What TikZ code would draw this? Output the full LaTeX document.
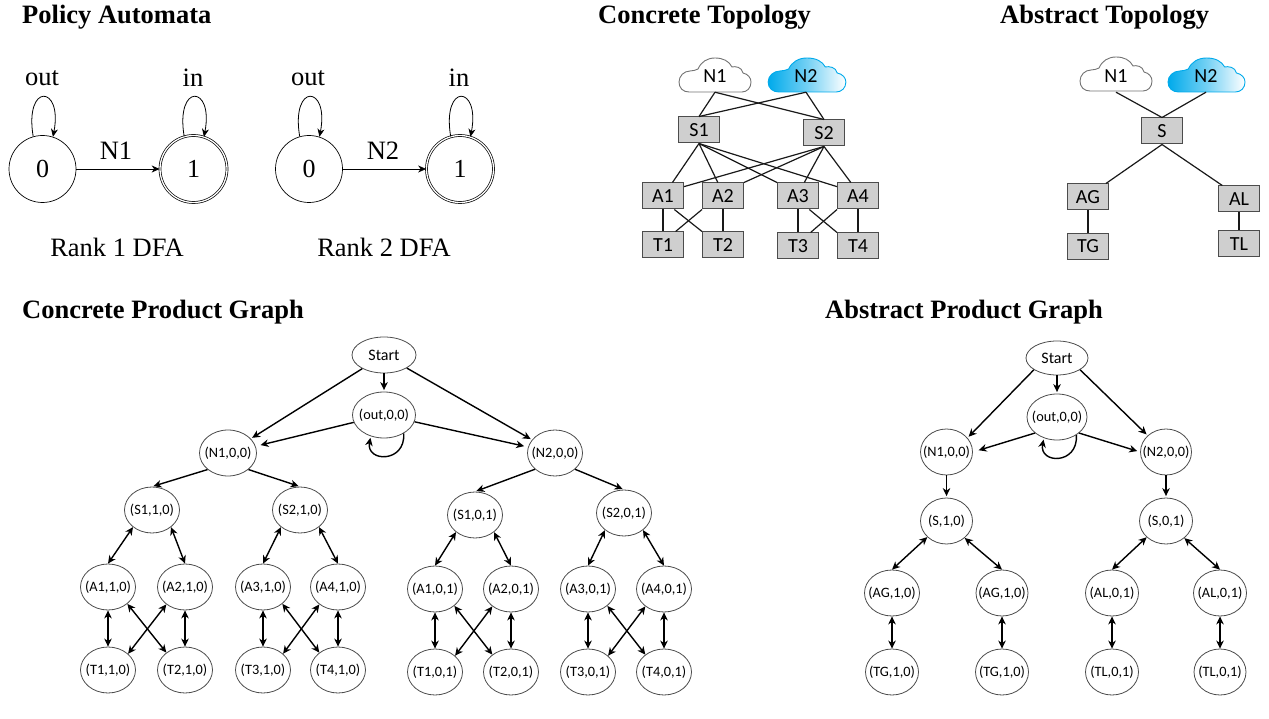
\documentclass[tikz,border=0pt]{standalone}
\usepackage{fontspec}
\setmainfont{Liberation Serif}
\newfontfamily\carlito{Carlito}
\usetikzlibrary{shapes.geometric,arrows.meta}
\definecolor{cloudblue}{RGB}{0,170,235}
\tikzset{
  heading/.style={anchor=base west,inner sep=0pt,font=\fontsize{26.5}{30}\selectfont\bfseries},
  dfatext/.style={inner sep=0pt,font=\fontsize{26.5}{30}\selectfont},
  dfastate/.style={draw,circle,line width=0.7pt,minimum size=67pt,inner sep=0pt,font=\fontsize{26}{30}\selectfont},
  dfafinal/.style={dfastate,double,double distance=1.3pt,minimum size=67pt},
  dfaedge/.style={line width=0.8pt,-{Stealth[length=8pt,width=7pt,inset=2.5pt]}},
  netbox/.style={draw=black!70,fill=black!19,line width=1pt,minimum width=41pt,minimum height=26pt,inner sep=0pt,font=\fontsize{20}{24}\selectfont\carlito},
  nettext/.style={minimum width=70pt,minimum height=32pt,inner sep=0pt,font=\fontsize{20}{24}\selectfont\carlito},
  netline/.style={line width=1.2pt,black!90},
  prod/.style={draw=black!70,ellipse,line width=0.8pt,minimum width=#1,minimum height=46pt,inner xsep=-12pt,inner ysep=-2pt,font=\fontsize{14.3}{16}\selectfont\carlito},
  prod/.default=55pt,
  oneway/.style={line width=1.4pt,shorten >=1.5pt,-{Stealth[length=8pt,width=7.5pt,inset=2.5pt]}},
  twoway/.style={line width=1.4pt,{Stealth[length=8pt,width=7.5pt,inset=2.5pt]}-{Stealth[length=8pt,width=7.5pt,inset=2.5pt]}},
  pics/netcloud/.style={code={
    \path[line width=0.9pt,#1] (-26,17) .. controls (-32,17) and (-36,13) .. (-36,7)
      .. controls (-36,1) and (-31,-4) .. (-25,-4)
      .. controls (-22,-4) and (-19,-5) .. (-17,-6)
      .. controls (-14,-13) and (-8,-17) .. (0,-17)
      .. controls (8,-17) and (14,-14) .. (17,-8)
      .. controls (20,-9) and (27,-8) .. (28,-2)
      .. controls (33,-1) and (36,3) .. (36,7)
      .. controls (36,13) and (32,17) .. (27,17) -- cycle;
  }}
}

\begin{document}
\begin{tikzpicture}[x=1pt,y=-1pt]
\useasboundingbox (0,0) rectangle (1269,719);

% Headings
\node[heading] (h1) at (22,24) {Policy Automata};
\node[heading] (h2) at (598,24) {Concrete Topology};
\node[heading] (h3) at (1000,24) {Abstract Topology};
\node[heading] (h4) at (22,319) {Concrete Product Graph};
\node[heading] (h5) at (825,319) {Abstract Product Graph};

% Rank 1 DFA
\node[dfastate] (ra0) at (42.5,169) {0};
\node[dfafinal] (ra1) at (193.5,169) {1};
\draw[dfaedge] (ra0) -- (ra1);
\draw[dfaedge] (ra0.106) .. controls +(-9,-54) and +(10,-52) .. (ra0.72);
\draw[dfaedge] (ra1.106) .. controls +(-9,-54) and +(10,-52) .. (ra1.72);
\node[dfatext] (raout) at (42,78) {out};
\node[dfatext] (rain) at (193,78) {in};
\node[dfatext] (rasym) at (116,151) {N1};
\node[dfatext] (ralabel) at (117,247) {Rank 1 DFA};

% Rank 2 DFA
\node[dfastate] (rb0) at (309,169) {0};
\node[dfafinal] (rb1) at (460,169) {1};
\draw[dfaedge] (rb0) -- (rb1);
\draw[dfaedge] (rb0.106) .. controls +(-9,-54) and +(10,-52) .. (rb0.72);
\draw[dfaedge] (rb1.106) .. controls +(-9,-54) and +(10,-52) .. (rb1.72);
\node[dfatext] (rbout) at (308,78) {out};
\node[dfatext] (rbin) at (459,78) {in};
\node[dfatext] (rbsym) at (383,151) {N2};
\node[dfatext] (rblabel) at (384,247) {Rank 2 DFA};

% Concrete topology
\pic at (715,75) {netcloud={draw=black!55,fill=white}};
\pic at (807,75) {netcloud={draw=cloudblue,left color=cloudblue,right color=white,middle color=cloudblue!55,xscale=1.08}};
\node[nettext] (cn1) at (715,76) {N1};
\node[nettext] (cn2) at (806,76) {N2};
\node[netbox] (cs1) at (699,130) {S1};
\node[netbox] (cs2) at (824,133) {S2};
\node[netbox] (ca1) at (663,196) {A1};
\node[netbox] (ca2) at (723,196) {A2};
\node[netbox] (ca3) at (798,196) {A3};
\node[netbox] (ca4) at (858,196) {A4};
\node[netbox] (ct1) at (663,245) {T1};
\node[netbox] (ct2) at (723,245) {T2};
\node[netbox] (ct3) at (798,246) {T3};
\node[netbox] (ct4) at (858,246) {T4};
\draw[netline] (cn1.south) -- (cs1.north);
\draw[netline] (cn1.south) -- (cs2.north);
\draw[netline] (cn2.south) -- (cs1.north);
\draw[netline] (cn2.south) -- (cs2.north);
\draw[netline] (cs1.south) -- (ca1.55);
\draw[netline] (cs1.south) -- (ca2.111);
\draw[netline] (cs1.south) -- (ca3.north west);
\draw[netline] (cs1.south) -- (ca4.156);
\draw[netline] (cs2.south) -- (ca1.24);
\draw[netline] (cs2.south) -- (ca2.north east);
\draw[netline] (cs2.south) -- (ca3.65);
\draw[netline] (cs2.south) -- (ca4.118);
\draw[netline] (ca1.south) -- (ct1.north);
\draw[netline] (ca1.-50) -- (ct2.north west);
\draw[netline] (ca2.south west) -- (ct1.47);
\draw[netline] (ca2.south) -- (ct2.north);
\draw[netline] (ca3.south) -- (ct3.north);
\draw[netline] (ca3.-50) -- (ct4.north west);
\draw[netline] (ca4.south west) -- (ct3.47);
\draw[netline] (ca4.south) -- (ct4.north);

% Abstract topology
\pic at (1116,74) {netcloud={draw=black!55,fill=white}};
\pic at (1206.5,75) {netcloud={draw=cloudblue,left color=cloudblue,right color=white,middle color=cloudblue!55,xscale=1.07}};
\node[nettext] (an1) at (1116,76) {N1};
\node[nettext] (an2) at (1206,76) {N2};
\node[netbox] (as) at (1162,131) {S};
\node[netbox] (aag) at (1088,197) {AG};
\node[netbox] (aal) at (1239,199) {AL};
\node[netbox] (atg) at (1088,246.5) {TG};
\node[netbox] (atl) at (1239,244) {TL};
\draw[netline] (an1.south) -- (as.north);
\draw[netline] (an2.south) -- (as.north);
\draw[netline] (as.south) -- (aag.37);
\draw[netline] (as.south) -- (aal.141);
\draw[netline] (aag.south) -- (atg.north);
\draw[netline] (aal.south) -- (atl.north);

% Concrete product graph
\node[prod=64pt,minimum height=36pt,font=\fontsize{16}{18}\selectfont\carlito] (pstart) at (384,355) {Start};
\node[prod=63pt] (pout) at (384,415) {(out,0,0)};
\node[prod=57pt] (pn1) at (228,453) {(N1,0,0)};
\node[prod=55pt] (pn2) at (555,453) {(N2,0,0)};
\node[prod] (ps1a) at (152,510) {(S1,1,0)};
\node[prod] (ps2a) at (300,510) {(S2,1,0)};
\node[prod] (pa1a) at (108,587) {(A1,1,0)};
\node[prod] (pa2a) at (185,587) {(A2,1,0)};
\node[prod] (pa3a) at (263,587) {(A3,1,0)};
\node[prod] (pa4a) at (338,587) {(A4,1,0)};
\node[prod] (pt1a) at (108,670) {(T1,1,0)};
\node[prod] (pt2a) at (185,670) {(T2,1,0)};
\node[prod] (pt3a) at (263,670) {(T3,1,0)};
\node[prod] (pt4a) at (338,670) {(T4,1,0)};
\node[prod] (ps1b) at (475,515) {(S1,0,1)};
\node[prod] (ps2b) at (624,513) {(S2,0,1)};
\node[prod] (pa1b) at (435,589) {(A1,0,1)};
\node[prod] (pa2b) at (511,589) {(A2,0,1)};
\node[prod] (pa3b) at (588,589) {(A3,0,1)};
\node[prod] (pa4b) at (664,589) {(A4,0,1)};
\node[prod] (pt1b) at (435,672) {(T1,0,1)};
\node[prod] (pt2b) at (511,672) {(T2,0,1)};
\node[prod] (pt3b) at (588,672) {(T3,0,1)};
\node[prod] (pt4b) at (664,672) {(T4,0,1)};
\draw[oneway] (pstart) -- (pn1);
\draw[oneway] (pstart) -- (pn2);
\draw[oneway] (pstart) -- (pout);
\draw[oneway,shorten >=5pt] (pout) -- (pn1);
\draw[oneway,shorten >=4pt] (pout) -- (pn2);
\draw[oneway] (pout.-43) .. controls +(2,30) and +(-5,26) .. (pout.-122);
\draw[oneway] (pn1.-141) -- (ps1a.north);
\draw[oneway] (pn1.-39) -- (ps2a.north);
\draw[oneway] (pn2.-141) -- (ps1b.north);
\draw[oneway] (pn2.-39) -- (ps2b.north);
\foreach \up/\dl/\dr in {ps1a/pa1a/pa2a,ps2a/pa3a/pa4a,ps1b/pa1b/pa2b,ps2b/pa3b/pa4b}
  {\draw[twoway] (\up.-138) -- (\dl.north);
   \draw[twoway] (\up.-42) -- (\dr.north);}
\foreach \al/\ar/\tl/\tr in {pa1a/pa2a/pt1a/pt2a,pa3a/pa4a/pt3a/pt4a,pa1b/pa2b/pt1b/pt2b,pa3b/pa4b/pt3b/pt4b}
  {\draw[twoway] (\al.south) -- (\tl.north);
   \draw[twoway] (\ar.south) -- (\tr.north);
   \draw[twoway] (\al.-41) -- (\tr.137);
   \draw[twoway] (\ar.-137) -- (\tl.39);}

% Abstract product graph
\node[prod=62pt,minimum height=34pt,font=\fontsize{16}{18}\selectfont\carlito] (qstart) at (1057,358) {Start};
\node[prod=60pt] (qout) at (1057,417) {(out,0,0)};
\node[prod=52pt] (qn1) at (946.5,452) {(N1,0,0)};
\node[prod=51pt] (qn2) at (1166,452) {(N2,0,0)};
\node[prod=52pt] (qs1) at (946.5,521) {(S,1,0)};
\node[prod=53pt] (qs2) at (1166,521) {(S,0,1)};
\node[prod] (qa1) at (892,593) {(AG,1,0)};
\node[prod=52pt] (qa2) at (1002,593) {(AG,1,0)};
\node[prod=53pt] (qa3) at (1112,593) {(AL,0,1)};
\node[prod=53pt] (qa4) at (1220,593) {(AL,0,1)};
\node[prod=53pt] (qt1) at (892,672) {(TG,1,0)};
\node[prod=53pt] (qt2) at (1002,672) {(TG,1,0)};
\node[prod=53pt] (qt3) at (1112,672) {(TL,0,1)};
\node[prod=52pt] (qt4) at (1220,672) {(TL,0,1)};
\draw[oneway] (qstart) -- (qout);
\draw[oneway] (qstart.-153) -- (qn1.34);
\draw[oneway] (qstart.-27) -- (qn2.138);
\draw[oneway,shorten >=6pt] (qout.-144) -- (qn1.east);
\draw[oneway,shorten >=3pt] (qout.-36) -- (qn2.west);
\draw[oneway] (qout.-43) .. controls +(2,30) and +(-5,26) .. (qout.-122);
\draw[oneway] (qn1.south) -- (qs1.north);
\draw[oneway] (qn2.south) -- (qs2.north);
\draw[twoway] (qs1.-140) -- (qa1.north);
\draw[twoway] (qs1.-43) -- (qa2.north);
\draw[twoway] (qs2.-140) -- (qa3.north);
\draw[twoway] (qs2.-43) -- (qa4.north);
\draw[twoway] (qa1.south) -- (qt1.north);
\draw[twoway] (qa2.south) -- (qt2.north);
\draw[twoway] (qa3.south) -- (qt3.north);
\draw[twoway] (qa4.south) -- (qt4.north);

\end{tikzpicture}
\end{document}
